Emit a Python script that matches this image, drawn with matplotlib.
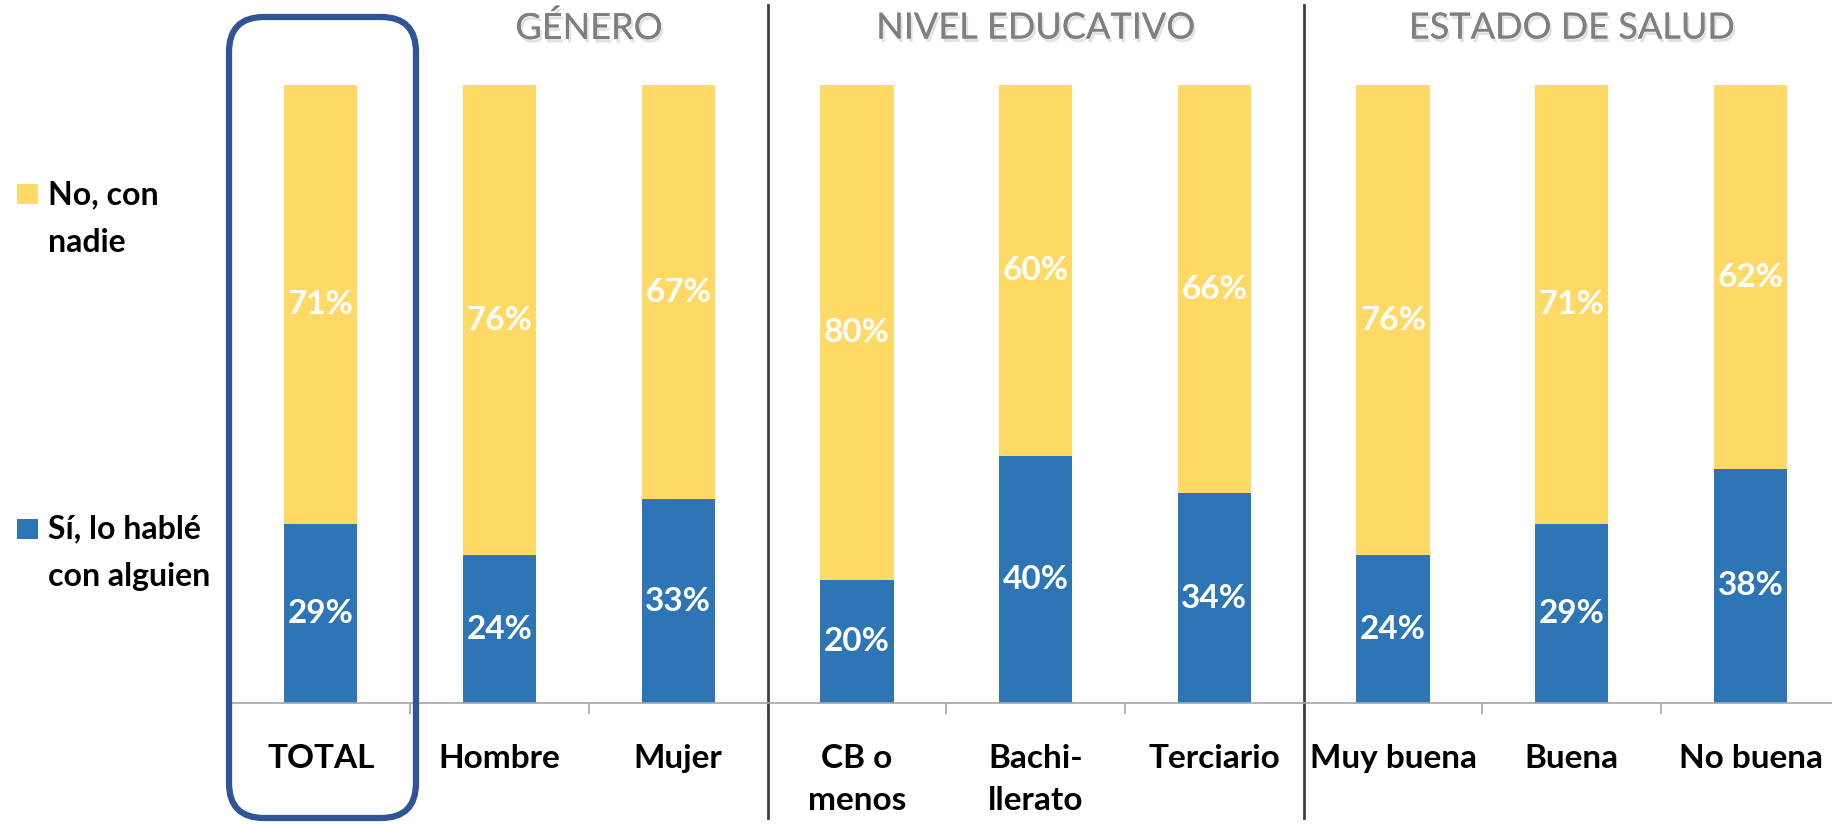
import matplotlib.pyplot as plt
import matplotlib.patheffects as pe
from matplotlib.patches import FancyBboxPatch, Rectangle
import numpy as np

plt.rcParams['font.family'] = ['Lato', 'DejaVu Sans']

# Data
categorias = ['TOTAL', 'Hombre', 'Mujer', 'CB o\nmenos', 'Bachi-\nllerato', 'Terciario',
              'Muy buena', 'Buena', 'No buena']
si_hable = [29, 24, 33, 20, 40, 34, 24, 29, 38]
no_nadie = [71, 76, 67, 80, 60, 66, 76, 71, 62]
grupos = ['GÉNERO', 'NIVEL EDUCATIVO', 'ESTADO DE SALUD']
grupo_centros = [1.5, 4, 7]
separadores = [2.5, 5.5]

azul = '#2E75B6'
amarillo = '#FFD966'

fig = plt.figure(figsize=(18.32, 8.26), dpi=100)
ax = fig.add_axes([0.1263, 0.1485, 0.878, 0.748])

x = np.arange(len(categorias))
si = np.array(si_hable) / 100
no = np.array(no_nadie) / 100
ax.bar(x, si, width=0.41, color=azul)
ax.bar(x, no, width=0.41, bottom=si, color=amarillo)

for i in range(len(x)):
    ax.text(x[i], si[i] / 2, f'{si_hable[i]}%', ha='center', va='center',
            color='white', fontsize=24, fontweight='bold')
    ax.text(x[i], si[i] + no[i] / 2, f'{no_nadie[i]}%', ha='center', va='center',
            color='white', fontsize=24, fontweight='bold')

ax.set_xlim(-0.5, 8.5)
ax.set_ylim(0, 1)
ax.set_yticks([])
for s in ['top', 'right', 'left']:
    ax.spines[s].set_visible(False)
ax.spines['bottom'].set_color('#A6A6A6')
ax.spines['bottom'].set_linewidth(1.2)

ax.set_xticks(x)
ax.set_xticklabels(categorias, fontsize=24, fontweight='bold', linespacing=1.55)
ax.set_xticks(np.arange(0.5, 8.5, 1), minor=True)
ax.tick_params(axis='x', which='major', length=0, pad=29)
ax.tick_params(axis='x', which='minor', length=8, color='#A6A6A6', width=1.2)

# group separators
for s in separadores:
    ax.plot([s, s], [-0.185, 1.13], color='#404040', lw=2, clip_on=False)

# group headers
for g, c in zip(grupos, grupo_centros):
    ax.text(c, 1.093, g, ha='center', va='center', fontsize=26, color='#7F7F7F',
            clip_on=False,
            path_effects=[pe.withSimplePatchShadow(offset=(1.5, -2.5), shadow_rgbFace='#a0a0a0', alpha=0.3),
                          pe.Normal()])

# box around TOTAL
box = FancyBboxPatch((2.29, 0.08), 1.87, 8.01, boxstyle='round,pad=0,rounding_size=0.35',
                     transform=fig.dpi_scale_trans, fill=False, edgecolor='#2F5597', lw=4.5)
fig.patches.append(box)

# legend
fig.patches.append(Rectangle((0.0093, 0.753), 0.0115, 0.0242, transform=fig.transFigure,
                             facecolor=amarillo, edgecolor='none'))
fig.text(0.026, 0.782, 'No, con\nnadie', ha='left', va='top', fontsize=23,
         fontweight='bold', linespacing=1.8)
fig.patches.append(Rectangle((0.0093, 0.3475), 0.0115, 0.0242, transform=fig.transFigure,
                             facecolor=azul, edgecolor='none'))
fig.text(0.026, 0.377, 'Sí, lo hablé\ncon alguien', ha='left', va='top', fontsize=23,
         fontweight='bold', linespacing=1.75)

fig.savefig('out.png', dpi=100)
